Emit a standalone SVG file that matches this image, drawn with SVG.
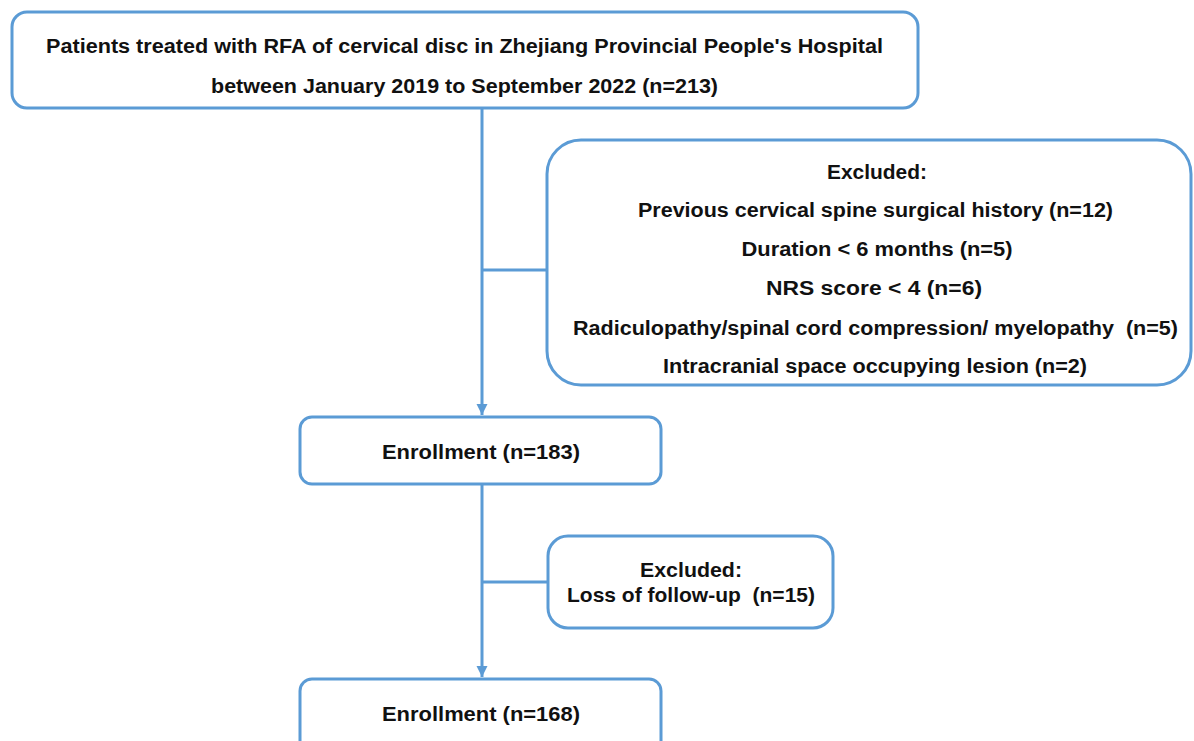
<svg xmlns="http://www.w3.org/2000/svg" width="1194" height="741" viewBox="0 0 1194 741">
  <defs>
    <style>
      .box { fill: #ffffff; stroke: #5B9BD5; stroke-width: 3; }
      .conn { fill: none; stroke: #5B9BD5; stroke-width: 3; }
      .t { font-family: "Liberation Sans", Arial, sans-serif; font-weight: bold; font-size: 20px; fill: #111111; text-anchor: middle; }
      .big { font-size: 21px; }
    </style>
    <marker id="arrow" markerUnits="userSpaceOnUse" markerWidth="12" markerHeight="12" viewBox="0 0 12 12" refX="11" refY="6" orient="auto">
      <path d="M0,0.5 L11,6 L0,11.5 Z" fill="#5B9BD5"/>
    </marker>
  </defs>
  <rect width="1194" height="741" fill="#ffffff"/>

  <g id="connectors">
    <line class="conn" x1="482" y1="108" x2="482" y2="415" marker-end="url(#arrow)"/>
    <line class="conn" x1="482" y1="270" x2="547" y2="270"/>
    <line class="conn" x1="482" y1="484" x2="482" y2="677" marker-end="url(#arrow)"/>
    <line class="conn" x1="482" y1="582" x2="548" y2="582"/>
  </g>

  <g id="node-patients">
    <rect class="box" x="12" y="12" width="906" height="96" rx="15" ry="15"/>
    <text class="t" x="464.5" y="53" textLength="837" lengthAdjust="spacingAndGlyphs">Patients treated with RFA of cervical disc in Zhejiang Provincial People's Hospital</text>
    <text class="t" x="464.5" y="93" textLength="507" lengthAdjust="spacingAndGlyphs">between January 2019 to September 2022 (n=213)</text>
  </g>

  <g id="node-excluded1">
    <rect class="box" x="547" y="140" width="644" height="245" rx="34" ry="34"/>
    <text class="t" x="877" y="179" textLength="100" lengthAdjust="spacingAndGlyphs">Excluded:</text>
    <text class="t" x="875.5" y="217" textLength="475" lengthAdjust="spacingAndGlyphs">Previous cervical spine surgical history (n=12)</text>
    <text class="t" x="877" y="256" textLength="271" lengthAdjust="spacingAndGlyphs">Duration &lt; 6 months (n=5)</text>
    <text class="t" x="874" y="295" textLength="216" lengthAdjust="spacingAndGlyphs">NRS score &lt; 4 (n=6)</text>
    <text class="t" x="875.5" y="335" textLength="605" lengthAdjust="spacingAndGlyphs" xml:space="preserve">Radiculopathy/spinal cord compression/ myelopathy  (n=5)</text>
    <text class="t" x="875" y="373" textLength="424" lengthAdjust="spacingAndGlyphs">Intracranial space occupying lesion (n=2)</text>
  </g>

  <g id="node-enrollment1">
    <rect class="box" x="300" y="417" width="361" height="67" rx="12" ry="12"/>
    <text class="t big" x="481" y="459" textLength="198" lengthAdjust="spacingAndGlyphs">Enrollment (n=183)</text>
  </g>

  <g id="node-excluded2">
    <rect class="box" x="548" y="536" width="285" height="92" rx="20" ry="20"/>
    <text class="t big" x="691" y="577" textLength="102" lengthAdjust="spacingAndGlyphs">Excluded:</text>
    <text class="t big" x="691" y="602" textLength="248" lengthAdjust="spacingAndGlyphs" xml:space="preserve">Loss of follow-up  (n=15)</text>
  </g>

  <g id="node-enrollment2">
    <rect class="box" x="300" y="679" width="361" height="80" rx="12" ry="12"/>
    <text class="t big" x="481" y="721" textLength="198" lengthAdjust="spacingAndGlyphs">Enrollment (n=168)</text>
  </g>
</svg>
